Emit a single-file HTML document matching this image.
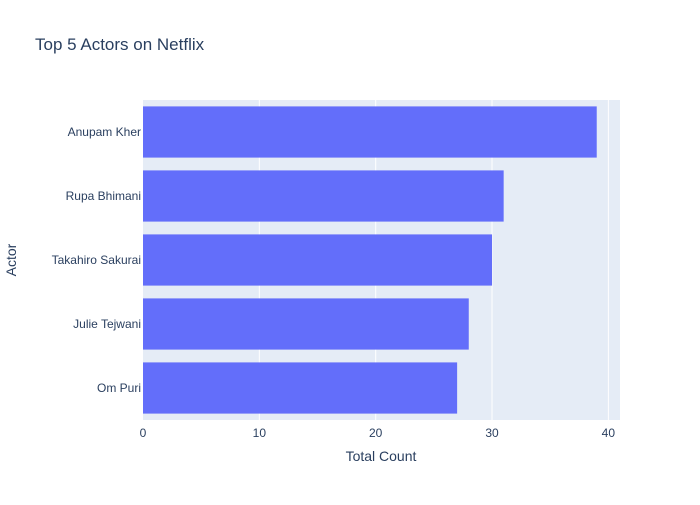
<!DOCTYPE html>
<html><head><meta charset="utf-8">
<style>
body{margin:0;background:#fff;font-family:"Liberation Sans","Open Sans",sans-serif;}
svg text{font-family:"Liberation Sans","Open Sans",sans-serif;fill:#2a3f5f;}
</style></head>
<body>
<svg id="chart" width="700" height="500">
<rect x="0" y="0" width="700" height="500" fill="#fff"/>
<text x="35" y="50" font-size="17">Top 5 Actors on Netflix</text>
<rect x="143" y="100" width="477" height="320" fill="#e5ecf6"/>
<g id="grid"></g>
<g id="bars"></g>
<g id="xticks"></g>
<g id="yticks"></g>
<text x="381" y="461" font-size="14" text-anchor="middle">Total Count</text>
<text transform="translate(16,260) rotate(-90)" font-size="14" text-anchor="middle">Actor</text>
</svg>
<script>
const categories=["Anupam Kher","Rupa Bhimani","Takahiro Sakurai","Julie Tejwani","Om Puri"];
const values=[39,31,30,28,27];
const xTicks=[0,10,20,30,40];
const x0=143,x1=620,xMax=41.0,y0=100,y1=420;
const ns="http://www.w3.org/2000/svg";
function xs(v){return x0+v/xMax*(x1-x0);}
const band=(y1-y0)/categories.length;
function ys(i){return y0+band*i;}
function mk(tag,attrs,parent){const e=document.createElementNS(ns,tag);for(const k in attrs)e.setAttribute(k,attrs[k]);document.getElementById(parent).appendChild(e);return e;}
xTicks.forEach(t=>{
  if(t>0){const g=mk('line',{x1:xs(t),x2:xs(t),y1:y0,y2:y1,stroke:'#fff','stroke-width':1},'grid');
  
  }
  const tx=mk('text',{x:xs(t),y:y1+17,'font-size':12,'text-anchor':'middle'},'xticks');
  tx.textContent=t;
  
  
});
categories.forEach((c,i)=>{
  const r=mk('rect',{x:x0,y:ys(i)+band*0.1,width:xs(values[i])-x0,height:band*0.8,fill:'#636efa'},'bars');
  
  
  const t=mk('text',{x:x0-2,y:ys(i)+band/2+4,'font-size':12,'text-anchor':'end'},'yticks');
  t.textContent=c;
  
  
});
</script>
</body></html>
